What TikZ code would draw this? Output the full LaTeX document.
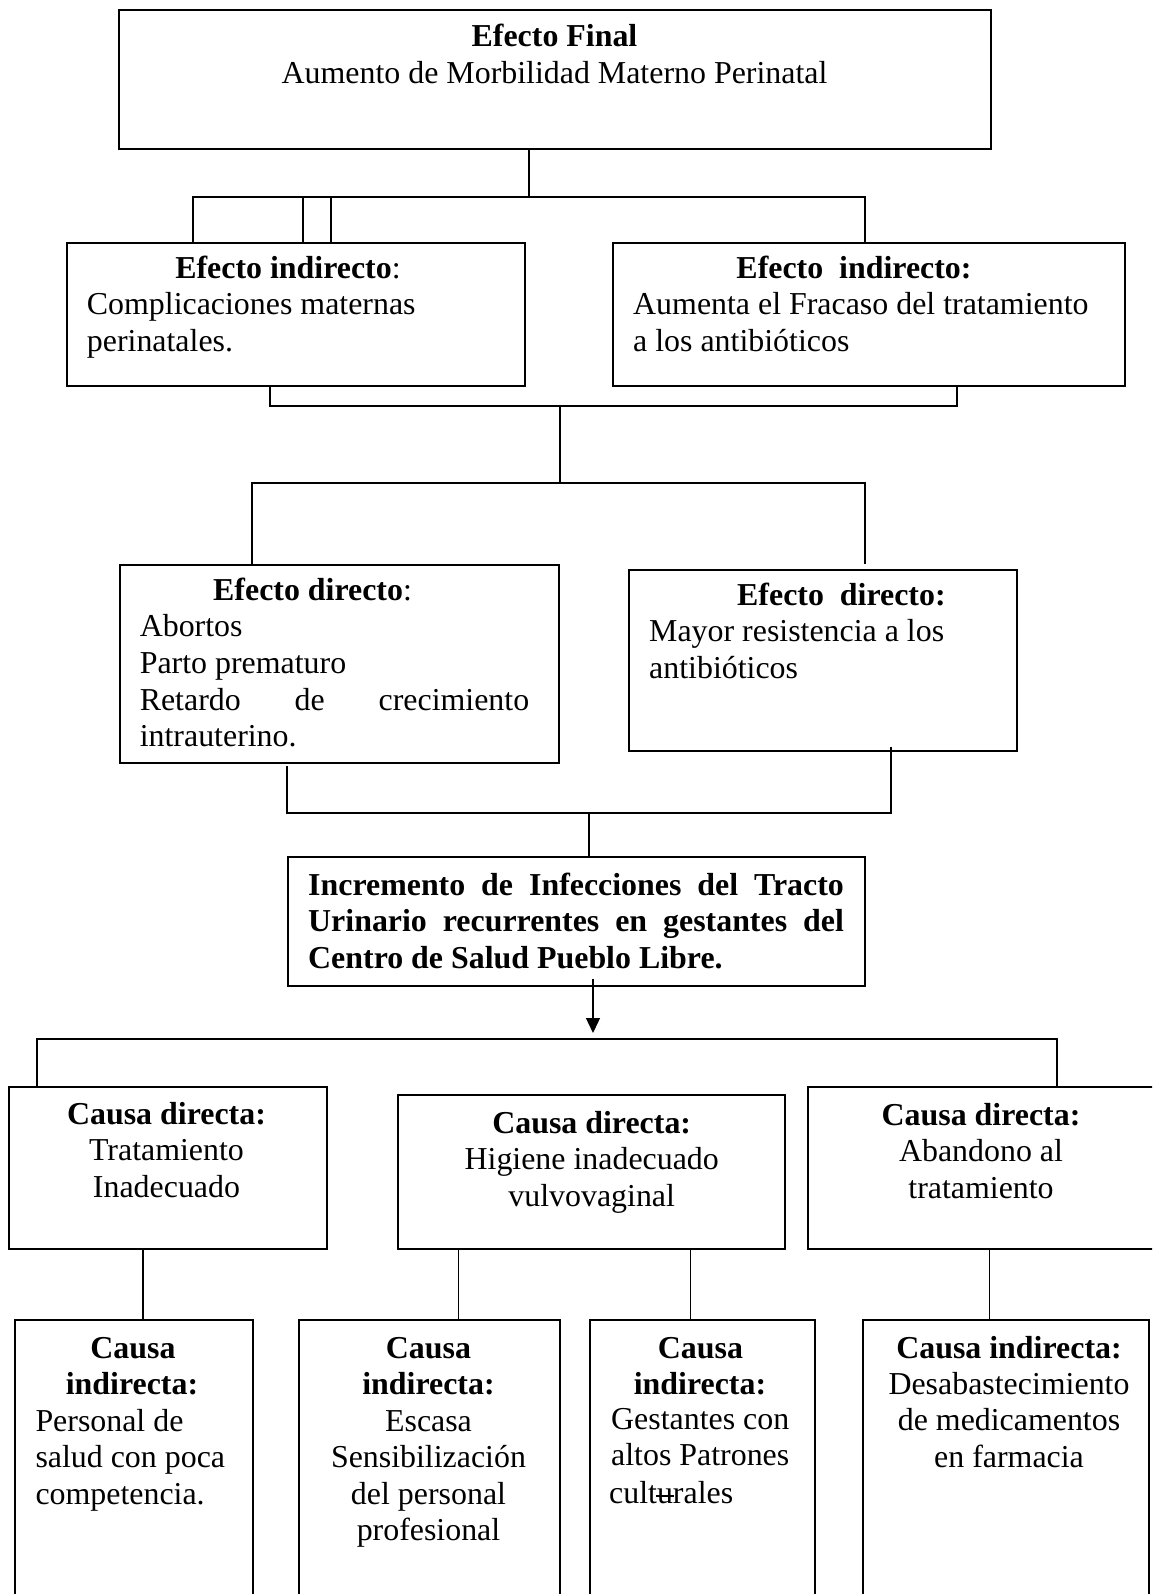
\documentclass[tikz,border=0pt]{standalone}
\usepackage{fontspec}
\setmainfont{Liberation Serif}
\usetikzlibrary{arrows.meta}
\newcommand\strku{\rlap{\kern-0.03em\rule[0.2em]{0.55em}{0.06em}}u}
\begin{document}
\begin{tikzpicture}[x=1pt,y=-1pt,
  box/.style={draw, line width=2pt, rectangle, inner sep=0pt, anchor=north west},
  conn/.style={line width=1.3pt},
  tc/.style={anchor=base, inner sep=0pt, font=\fontsize{31.9}{36.5}\selectfont},
  tl/.style={anchor=base west, inner sep=0pt, font=\fontsize{31.9}{36.5}\selectfont}]
\useasboundingbox (0,0) rectangle (1152,1594);
\clip (0,0) rectangle (1152,1594);
% boxes
\node[box, minimum width=872pt, minimum height=139pt] (top) at (118,9) {};
\node[box, minimum width=458pt, minimum height=143pt] (ei1) at (66,242) {};
\node[box, minimum width=512pt, minimum height=143pt] (ei2) at (612,242) {};
\node[box, minimum width=439pt, minimum height=198pt] (ed1) at (119,564) {};
\node[box, minimum width=388pt, minimum height=181pt] (ed2) at (628,569) {};
\node[box, minimum width=577pt, minimum height=129pt] (prob) at (287,856) {};
\node[box, minimum width=318pt, minimum height=162pt] (cd1) at (7.5,1086) {};
\node[box, minimum width=387pt, minimum height=154pt] (cd2) at (397,1094) {};
\node[box, minimum width=380pt, minimum height=162pt] (cd3) at (807,1086) {};
\node[box, minimum width=238pt, minimum height=320pt] (ci1) at (14,1319) {};
\node[box, minimum width=261pt, minimum height=320pt] (ci2) at (297.6,1319) {};
\node[box, minimum width=225pt, minimum height=320pt] (ci3) at (588.5,1319) {};
\node[box, minimum width=286pt, minimum height=320pt] (ci4) at (862,1319) {};
% junction coordinates
\coordinate (j1) at (529,197);
\coordinate (ja) at (193,197);
\coordinate (jb) at (865,197);
\coordinate (jc) at (303,197);
\coordinate (jd) at (331,197);
\coordinate (k1) at (270,406);
\coordinate (k2) at (957,406);
\coordinate (k3) at (560,406);
\coordinate (k4) at (560,483);
\coordinate (k5) at (252,483);
\coordinate (k6) at (865,483);
\coordinate (k7) at (865,564);
\coordinate (m1) at (287,766);
\coordinate (m2) at (287,813);
\coordinate (m3) at (891,813);
\coordinate (m4) at (891,747);
\coordinate (m5) at (589,813);
\coordinate (n1) at (593,979);
\coordinate (n2) at (593,1033);
\coordinate (h1) at (37,1039);
\coordinate (h2) at (1057,1039);
\coordinate (p1) at (143,1320);
\coordinate (p2) at (458.5,1320);
\coordinate (p3) at (690.7,1320);
\coordinate (p4) at (989.7,1320);
% connectors
\draw[conn] (top.south -| j1) -- (j1);
\draw[conn] (ei1.north -| ja) -- (ja) -- (jb) -- (ei2.north -| jb);
\draw[conn] (ei1.north -| jc) -- (jc) -- (jd) -- (ei1.north -| jd);
\draw[conn] (ei1.south -| k1) -- (k1) -- (k2) -- (ei2.south -| k2);
\draw[conn] (k3) -- (k4);
\draw[conn] (ed1.north -| k5) -- (k5) -- (k6) -- (k7);
\draw[conn] (m1) -- (m2) -- (m3) -- (m4);
\draw[conn] (m5) -- (prob.north -| m5);
\draw[conn, -{Triangle[width=14pt,length=15pt]}] (n1) -- (n2);
\draw[conn] (cd1.north -| h1) -- (h1) -- (h2) -- (cd3.north -| h2);
\draw[conn] (cd1.south -| p1) -- (ci1.north -| p1);
\draw[conn] (cd2.south -| p2) -- (ci2.north -| p2);
\draw[conn] (cd2.south -| p3) -- (ci3.north -| p3);
\draw[conn] (cd3.south -| p4) -- (ci4.north -| p4);
% texts: top
\node[tc] (t1) at (554.5,46.7) {\textbf{Efecto Final}};
\node[tc] (t2) at (554.5,83.2) {Aumento de Morbilidad Materno Perinatal};
% ei1
\node[tc] (a1) at (288,278.5) {\textbf{Efecto indirecto}:};
\node[tl] (a2) at (86.7,315) {Complicaciones maternas};
\node[tl] (a3) at (86.7,351.5) {perinatales.};
% ei2
\node[tc] (b1) at (854,278.5) {\textbf{Efecto\ \ indirecto:}};
\node[tl] (b2) at (633,315) {Aumenta el Fracaso del tratamiento};
\node[tl] (b3) at (633,351.5) {a los antibióticos};
% ed1
\node[tl] (c1) at (213,600) {\textbf{Efecto directo}:};
\node[tl] (c2) at (139.6,636.7) {Abortos};
\node[tl] (c3) at (139.6,673.3) {Parto prematuro};
\node[tl] (c4) at (139.6,710) {\makebox[389.4pt][s]{Retardo\hfill de\hfill crecimiento}};
\node[tl] (c5) at (139.6,746.7) {intrauterino.};
% ed2
\node[tl] (d1) at (737,605) {\textbf{Efecto\ \ directo:}};
\node[tl] (d2) at (649,641.5) {Mayor resistencia a los};
\node[tl] (d3) at (649,678) {antibióticos};
% problem
\node[tl] (e1) at (308,895) {\bfseries\makebox[535.7pt][s]{Incremento\hfill de\hfill Infecciones\hfill del\hfill Tracto}};
\node[tl] (e2) at (308,931.7) {\bfseries\makebox[535.7pt][s]{Urinario\hfill recurrentes\hfill en\hfill gestantes\hfill del}};
\node[tl] (e3) at (308,968.3) {\textbf{Centro de Salud Pueblo Libre.}};
% cd1
\node[tc] (f1) at (166.5,1124) {\textbf{Causa directa:}};
\node[tc] (f2) at (166.5,1160.5) {Tratamiento};
\node[tc] (f3) at (166.5,1197) {Inadecuado};
% cd2
\node[tc] (g1) at (591.7,1133) {\textbf{Causa directa:}};
\node[tc] (g2) at (591.7,1169.5) {Higiene inadecuado};
\node[tc] (g3) at (591.7,1206) {vulvovaginal};
% cd3
\node[tc] (h1t) at (981,1125) {\textbf{Causa directa:}};
\node[tc] (h2t) at (981,1161.5) {Abandono al};
\node[tc] (h3t) at (981,1198) {tratamiento};
% ci1
\node[tc] (i1) at (133,1358) {\textbf{Causa}};
\node[tc] (i2) at (132,1394.5) {\textbf{indirecta:}};
\node[tl] (i3) at (35.3,1431) {Personal de};
\node[tl] (i4) at (35.3,1467.5) {salud con poca};
\node[tl] (i5) at (35.3,1504) {competencia.};
% ci2
\node[tc] (q1) at (428.5,1358) {\textbf{Causa}};
\node[tc] (q2) at (428.5,1394.5) {\textbf{indirecta:}};
\node[tc] (q3) at (428.5,1431) {Escasa};
\node[tc] (q4) at (428.5,1467.5) {Sensibilización};
\node[tc] (q5) at (428.5,1504) {del personal};
\node[tc] (q6) at (428.5,1540) {profesional};
% ci3
\node[tc] (r1) at (700.5,1358) {\textbf{Causa}};
\node[tc] (r2) at (700,1394.5) {\textbf{indirecta:}};
\node[tl] (r3) at (611,1429) {Gestantes con};
\node[tl] (r4) at (611,1465.5) {altos Patrones};
\node[tl] (r5) at (609,1503) {cult\strku rales};
% ci4
\node[tc] (s1) at (1009,1358) {\textbf{Causa indirecta:}};
\node[tc] (s2) at (1009,1394) {Desabastecimiento};
\node[tc] (s3) at (1009,1430.5) {de medicamentos};
\node[tc] (s4) at (1009,1467) {en farmacia};
\end{tikzpicture}
\end{document}
